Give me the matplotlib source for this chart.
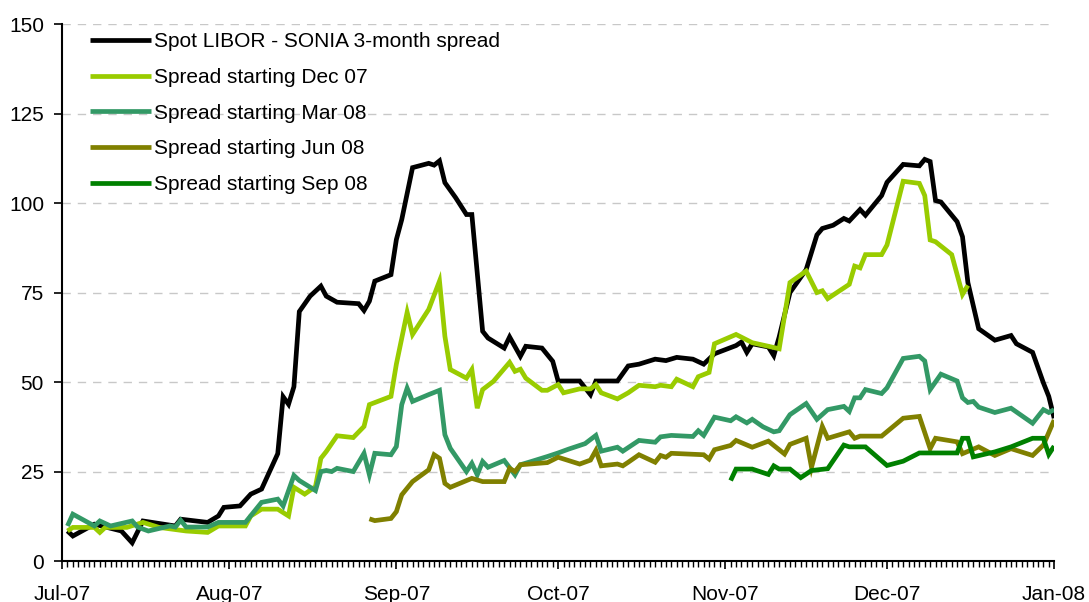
import matplotlib
matplotlib.use("Agg")
import matplotlib.pyplot as plt
import matplotlib.dates as mdates
import pandas as pd

plt.rcParams["font.family"] = ["Liberation Sans", "DejaVu Sans"]

# Spot LIBOR - SONIA 3-month spread (bp)
spot_dates = ["2007-07-02", "2007-07-03", "2007-07-07", "2007-07-12", "2007-07-14", "2007-07-16",
              "2007-07-22", "2007-07-23", "2007-07-28", "2007-07-30", "2007-07-31", "2007-08-03",
              "2007-08-05", "2007-08-07", "2007-08-10", "2007-08-11", "2007-08-12", "2007-08-13",
              "2007-08-14", "2007-08-16", "2007-08-18", "2007-08-19", "2007-08-21", "2007-08-25",
              "2007-08-26", "2007-08-27", "2007-08-28", "2007-08-31", "2007-09-01", "2007-09-02",
              "2007-09-04", "2007-09-07", "2007-09-08", "2007-09-09", "2007-09-10", "2007-09-12",
              "2007-09-14", "2007-09-15", "2007-09-17", "2007-09-18", "2007-09-21", "2007-09-22",
              "2007-09-24", "2007-09-25", "2007-09-28", "2007-09-30", "2007-10-01", "2007-10-05",
              "2007-10-07", "2007-10-08", "2007-10-12", "2007-10-14", "2007-10-16", "2007-10-19",
              "2007-10-21", "2007-10-23", "2007-10-26", "2007-10-28", "2007-10-30", "2007-11-03",
              "2007-11-04", "2007-11-05", "2007-11-06", "2007-11-09", "2007-11-10", "2007-11-11",
              "2007-11-13", "2007-11-16", "2007-11-18", "2007-11-19", "2007-11-21", "2007-11-23",
              "2007-11-24", "2007-11-26", "2007-11-27", "2007-11-30", "2007-12-01", "2007-12-04",
              "2007-12-07", "2007-12-08", "2007-12-09", "2007-12-10", "2007-12-11", "2007-12-14",
              "2007-12-15", "2007-12-16", "2007-12-18", "2007-12-21", "2007-12-24", "2007-12-25",
              "2007-12-28", "2007-12-30", "2007-12-31", "2008-01-01"]
spot_vals = [8.4, 7.0, 10.3, 8.4, 5.1, 11.2,
             9.8, 11.7, 10.8, 12.6, 15.0, 15.4,
             18.7, 20.1, 30.0, 45.9, 43.8, 48.7,
             69.7, 74.0, 76.8, 74.0, 72.3, 71.9,
             70.0, 72.6, 78.2, 80.0, 89.8, 95.4,
             109.9, 111.1, 110.6, 111.8, 105.7, 101.5,
             96.8, 96.8, 64.2, 62.3, 59.5, 62.6,
             57.2, 60.0, 59.5, 55.8, 50.3, 50.3,
             46.5, 50.3, 50.3, 54.5, 55.0, 56.4,
             56.0, 56.9, 56.4, 55.0, 57.9, 60.2,
             61.2, 58.3, 60.7, 59.8, 57.4, 62.6,
             75.0, 81.4, 91.1, 92.9, 93.8, 95.7,
             95.0, 98.2, 96.6, 102.1, 105.8, 110.8,
             110.4, 112.2, 111.6, 100.7, 100.3, 94.8,
             90.6, 77.8, 64.9, 61.7, 63.0, 60.7,
             58.3, 49.8, 46.0, 39.9]

# Spread starting Dec 07
dec07_dates = ["2007-07-02", "2007-07-03", "2007-07-07", "2007-07-08", "2007-07-09", "2007-07-13",
               "2007-07-16", "2007-07-19", "2007-07-24", "2007-07-28", "2007-07-30", "2007-08-04",
               "2007-08-05", "2007-08-07", "2007-08-10", "2007-08-12", "2007-08-13", "2007-08-15",
               "2007-08-17", "2007-08-18", "2007-08-19", "2007-08-21", "2007-08-24", "2007-08-26",
               "2007-08-27", "2007-08-31", "2007-09-01", "2007-09-03", "2007-09-04", "2007-09-07",
               "2007-09-09", "2007-09-10", "2007-09-11", "2007-09-14", "2007-09-15", "2007-09-16",
               "2007-09-17", "2007-09-19", "2007-09-22", "2007-09-23", "2007-09-24", "2007-09-25",
               "2007-09-28", "2007-09-29", "2007-10-01", "2007-10-02", "2007-10-05", "2007-10-07",
               "2007-10-08", "2007-10-09", "2007-10-12", "2007-10-14", "2007-10-16", "2007-10-19",
               "2007-10-20", "2007-10-22", "2007-10-23", "2007-10-26", "2007-10-27", "2007-10-29",
               "2007-10-30", "2007-11-03", "2007-11-06", "2007-11-09", "2007-11-11", "2007-11-13",
               "2007-11-16", "2007-11-18", "2007-11-19", "2007-11-20", "2007-11-24", "2007-11-25",
               "2007-11-26", "2007-11-27", "2007-11-30", "2007-12-01", "2007-12-04", "2007-12-07",
               "2007-12-08", "2007-12-09", "2007-12-10", "2007-12-13", "2007-12-15", "2007-12-16"]
dec07_vals = [8.4, 9.4, 9.4, 8.0, 9.4, 9.4,
              10.8, 9.4, 8.4, 8.0, 9.8, 9.8,
              12.6, 14.5, 14.5, 12.6, 20.6, 18.7,
              20.8, 28.7, 30.6, 35.0, 34.5, 37.6,
              43.7, 46.0, 55.0, 69.5, 63.3, 70.3,
              78.2, 62.8, 53.5, 51.1, 53.5, 42.7,
              47.9, 50.2, 55.5, 53.0, 53.6, 51.1,
              47.7, 47.7, 49.3, 47.0, 48.1, 48.1,
              49.3, 47.0, 45.3, 47.0, 49.1, 48.7,
              49.1, 48.7, 50.8, 48.7, 51.5, 52.7,
              60.7, 63.3, 61.0, 60.0, 59.3, 77.8,
              81.0, 75.0, 75.5, 73.3, 77.3, 82.4,
              81.9, 85.6, 85.6, 88.3, 106.1, 105.5,
              102.1, 89.7, 89.2, 85.6, 74.5, 77.0]

# Spread starting Mar 08
mar08_dates = ["2007-07-02", "2007-07-03", "2007-07-07", "2007-07-08", "2007-07-10", "2007-07-14",
               "2007-07-15", "2007-07-17", "2007-07-21", "2007-07-22", "2007-07-23", "2007-07-24",
               "2007-07-28", "2007-07-30", "2007-08-04", "2007-08-07", "2007-08-10", "2007-08-11",
               "2007-08-13", "2007-08-14", "2007-08-17", "2007-08-18", "2007-08-19", "2007-08-20",
               "2007-08-21", "2007-08-24", "2007-08-26", "2007-08-27", "2007-08-28", "2007-08-31",
               "2007-09-01", "2007-09-02", "2007-09-03", "2007-09-04", "2007-09-07", "2007-09-09",
               "2007-09-10", "2007-09-11", "2007-09-14", "2007-09-15", "2007-09-16", "2007-09-17",
               "2007-09-18", "2007-09-21", "2007-09-23", "2007-09-24", "2007-09-26", "2007-09-29",
               "2007-10-01", "2007-10-03", "2007-10-06", "2007-10-08", "2007-10-09", "2007-10-12",
               "2007-10-13", "2007-10-16", "2007-10-19", "2007-10-20", "2007-10-22", "2007-10-26",
               "2007-10-27", "2007-10-28", "2007-10-30", "2007-11-02", "2007-11-03", "2007-11-05",
               "2007-11-06", "2007-11-08", "2007-11-10", "2007-11-11", "2007-11-13", "2007-11-16",
               "2007-11-18", "2007-11-20", "2007-11-23", "2007-11-24", "2007-11-25", "2007-11-26",
               "2007-11-27", "2007-11-30", "2007-12-01", "2007-12-04", "2007-12-07", "2007-12-08",
               "2007-12-09", "2007-12-11", "2007-12-14", "2007-12-15", "2007-12-16", "2007-12-17",
               "2007-12-18", "2007-12-21", "2007-12-24", "2007-12-28", "2007-12-30", "2007-12-31",
               "2008-01-01"]
mar08_vals = [9.8, 13.1, 9.8, 11.2, 9.8, 11.2,
              9.5, 8.4, 9.8, 9.5, 11.4, 9.5,
              9.5, 10.8, 10.8, 16.4, 17.3, 15.4,
              23.9, 22.5, 19.7, 25.0, 25.3, 25.0,
              25.9, 25.0, 30.1, 24.1, 30.1, 29.7,
              32.0, 43.7, 48.3, 44.6, 46.5, 47.7,
              35.3, 31.5, 25.0, 27.3, 24.1, 27.8,
              26.2, 28.1, 24.1, 26.9, 27.8, 29.2,
              30.2, 31.3, 32.8, 35.1, 30.7, 31.8,
              30.7, 33.7, 33.2, 34.7, 35.1, 34.8,
              36.4, 35.1, 40.2, 39.2, 40.3, 38.6,
              39.6, 37.5, 36.1, 36.4, 40.9, 44.0,
              39.6, 42.3, 43.2, 41.8, 45.6, 45.6,
              47.9, 46.8, 48.4, 56.6, 57.2, 55.9,
              47.9, 52.2, 50.3, 45.6, 44.3, 44.6,
              43.0, 41.5, 42.7, 38.5, 42.3, 41.5,
              42.3]

# Spread starting Jun 08
jun08_dates = ["2007-08-27", "2007-08-28", "2007-08-31", "2007-09-01", "2007-09-02", "2007-09-04",
               "2007-09-07", "2007-09-08", "2007-09-09", "2007-09-10", "2007-09-11", "2007-09-15",
               "2007-09-17", "2007-09-21", "2007-09-22", "2007-09-23", "2007-09-24", "2007-09-29",
               "2007-10-01", "2007-10-05", "2007-10-07", "2007-10-08", "2007-10-09", "2007-10-12",
               "2007-10-13", "2007-10-14", "2007-10-16", "2007-10-19", "2007-10-20", "2007-10-21",
               "2007-10-22", "2007-10-28", "2007-10-29", "2007-10-30", "2007-11-02", "2007-11-03",
               "2007-11-06", "2007-11-09", "2007-11-12", "2007-11-13", "2007-11-16", "2007-11-17",
               "2007-11-19", "2007-11-20", "2007-11-24", "2007-11-25", "2007-11-26", "2007-11-30",
               "2007-12-04", "2007-12-07", "2007-12-09", "2007-12-10", "2007-12-14", "2007-12-15",
               "2007-12-18", "2007-12-21", "2007-12-24", "2007-12-28", "2007-12-30", "2008-01-01"]
jun08_vals = [11.8, 11.3, 11.9, 13.8, 18.5, 22.2,
              25.5, 29.7, 28.7, 21.7, 20.6, 23.1,
              22.2, 22.2, 25.9, 25.0, 26.9, 27.5,
              29.0, 27.1, 28.2, 30.9, 26.6, 27.1,
              26.6, 27.6, 29.7, 27.6, 29.5, 29.0,
              30.1, 29.7, 28.5, 31.1, 32.3, 33.7,
              31.8, 33.5, 29.9, 32.6, 34.3, 26.2,
              37.6, 34.3, 36.1, 34.3, 34.9, 34.9,
              39.9, 40.4, 31.4, 34.3, 33.3, 30.0,
              31.9, 29.5, 31.4, 29.5, 32.4, 39.4]

# Spread starting Sep 08
sep08_dates = ["2007-11-02", "2007-11-03", "2007-11-06", "2007-11-09", "2007-11-10", "2007-11-11",
               "2007-11-13", "2007-11-15", "2007-11-17", "2007-11-20", "2007-11-23", "2007-11-24",
               "2007-11-27", "2007-12-01", "2007-12-04", "2007-12-07", "2007-12-14", "2007-12-15",
               "2007-12-16", "2007-12-17", "2007-12-21", "2007-12-24", "2007-12-28", "2007-12-30",
               "2007-12-31", "2008-01-01"]
sep08_vals = [22.5, 25.7, 25.7, 24.2, 26.6, 25.7,
              25.7, 23.3, 25.3, 25.8, 32.4, 31.9,
              31.9, 26.7, 27.9, 30.2, 30.2, 34.3,
              34.3, 29.1, 30.5, 31.9, 34.3, 34.3,
              29.8, 32.1]

series = [
    ("Spot LIBOR - SONIA 3-month spread", spot_dates, spot_vals, "#000000"),
    ("Spread starting Dec 07", dec07_dates, dec07_vals, "#99cc00"),
    ("Spread starting Mar 08", mar08_dates, mar08_vals, "#339966"),
    ("Spread starting Jun 08", jun08_dates, jun08_vals, "#808000"),
    ("Spread starting Sep 08", sep08_dates, sep08_vals, "#008000"),
]

fig = plt.figure(figsize=(10.89, 6.02), dpi=100)
ax = fig.add_axes([0.057, 0.068, 0.911, 0.892])

for label, d, v, c in series:
    ax.plot(pd.to_datetime(d), v, color=c, lw=3.4, label=label,
            solid_joinstyle="miter", solid_capstyle="butt")

ax.set_xlim(pd.Timestamp("2007-07-01"), pd.Timestamp("2008-01-01"))
ax.set_ylim(0, 150)
ax.set_yticks(range(0, 151, 25))
ax.yaxis.grid(True, color="#c8c8c8", linestyle=(0, (6, 5)), lw=1)
ax.set_axisbelow(True)

ax.xaxis.set_major_locator(mdates.MonthLocator())
ax.xaxis.set_major_formatter(mdates.DateFormatter("%b-%y"))
ax.xaxis.set_minor_locator(mdates.DayLocator())

for s in ["top", "right"]:
    ax.spines[s].set_visible(False)
ax.spines["left"].set_linewidth(1.5)
ax.spines["bottom"].set_linewidth(1.5)

ax.tick_params(axis="y", direction="out", length=6, width=1.2, labelsize=15, pad=7)
ax.tick_params(axis="x", which="major", direction="out", length=6, width=1.2, labelsize=15, pad=11)
ax.tick_params(axis="x", which="minor", direction="out", length=4, width=1)

leg = ax.legend(loc="upper left", bbox_to_anchor=(0.02, 1.0), frameon=False, fontsize=15,
                handlelength=2.9, handletextpad=0.15, labelspacing=0.8, borderaxespad=0)

fig.savefig("out.png", dpi=100)
